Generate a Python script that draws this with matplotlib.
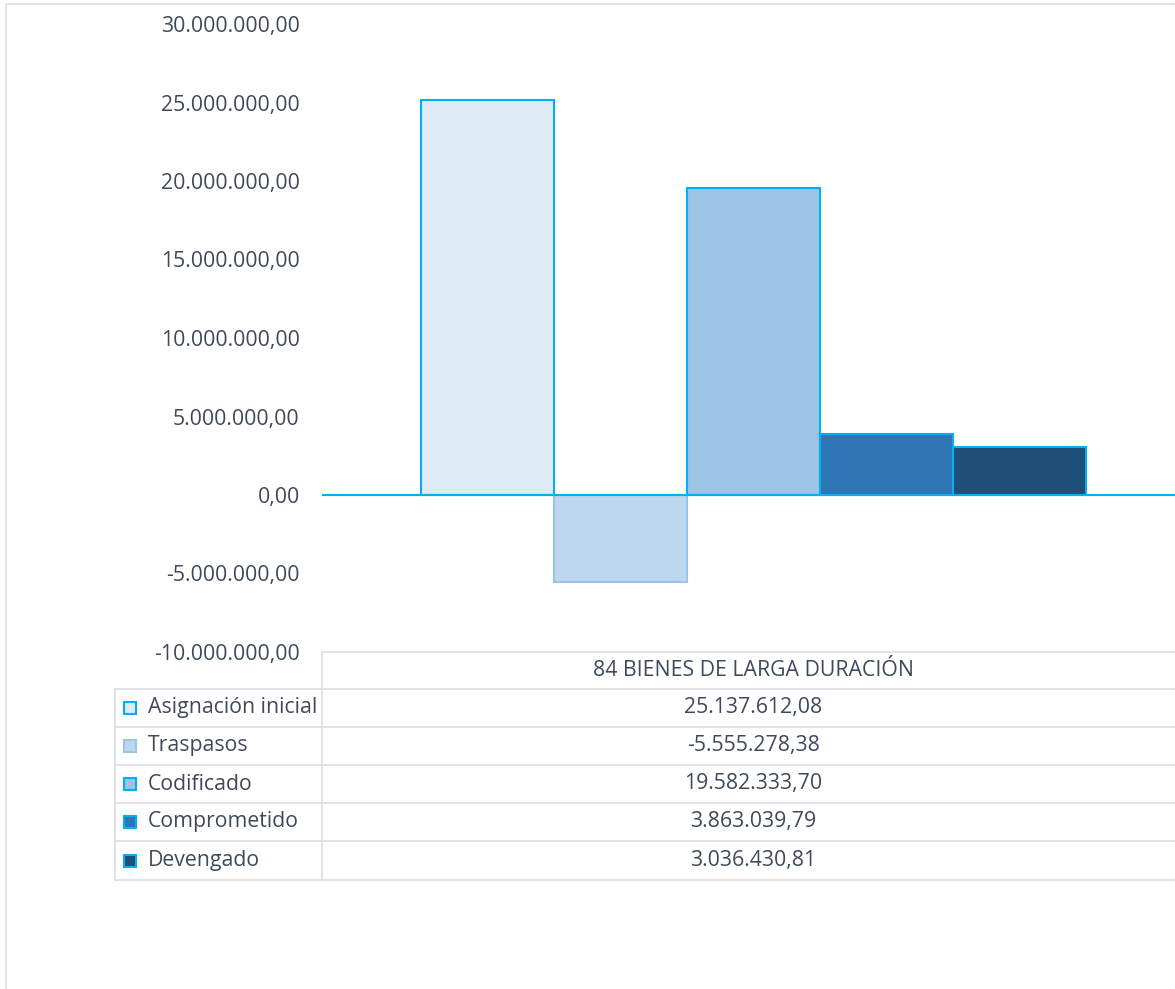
import matplotlib
matplotlib.use("Agg")
import matplotlib.pyplot as plt
from matplotlib.ticker import FuncFormatter
from matplotlib.patches import Rectangle
from matplotlib.lines import Line2D

category = "84 BIENES DE LARGA DURACIÓN"
series = ["Asignación inicial", "Traspasos", "Codificado", "Comprometido", "Devengado"]
values = [25137612.08, -5555278.38, 19582333.70, 3863039.79, 3036430.81]
fills = ["#DEEAF6", "#BDD7EE", "#9DC3E6", "#2E75B6", "#1F4E79"]
edges = ["#00B0F0", "#9DC3E6", "#00B0F0", "#00B0F0", "#00B0F0"]
y_ticks = [-10000000, -5000000, 0, 5000000, 10000000, 15000000, 20000000, 25000000, 30000000]

TXT = "#3E4A5B"
GRID = "#D9DEE5"
FONT = ["Open Sans", "DejaVu Sans"]
FS = 15.3
plt.rcParams['font.family'] = FONT

def fmt(v):
    s = f"{v:,.2f}"
    return s.replace(",", "X").replace(".", ",").replace("X", ".")

W, H = 1175, 989
fig = plt.figure(figsize=(W / 100, H / 100), dpi=100)

x0, x1 = 322, 1185
ytop, ybot = 24, 652
ax = fig.add_axes([x0 / W, 1 - ybot / H, (x1 - x0) / W, (ybot - ytop) / H])
ax.set_xlim(-0.5, 0.5)
ax.set_ylim(min(y_ticks), max(y_ticks))
bw = 133 / (x1 - x0)
n = len(series)
for i, (s, v, fc, ec) in enumerate(zip(series, values, fills, edges)):
    ax.bar((i - (n - 1) / 2) * bw, v, width=bw, color=fc, edgecolor=ec, linewidth=1.5, zorder=2)
ax.axhline(0, color="#00B0F0", linewidth=1.5, zorder=3)
ax.set_yticks(y_ticks)
ax.yaxis.set_major_formatter(FuncFormatter(lambda v, p: fmt(v)))
ax.tick_params(axis='y', length=0, pad=16, labelsize=FS, labelcolor=TXT)
ax.set_xticks([])
for sp in ax.spines.values():
    sp.set_visible(False)
ax.patch.set_alpha(0)

ov = fig.add_axes([0, 0, 1, 1], zorder=-1)
ov.set_xlim(0, W)
ov.set_ylim(H, 0)
ov.axis('off')
ov.add_patch(Rectangle((6, 4), W + 20, H + 20, fill=False, edgecolor=GRID, linewidth=1.2))

rows = [652, 689, 727, 765, 803, 841, 880]
lc = GRID
ov.add_line(Line2D([x0, W + 5], [rows[0], rows[0]], color=lc, lw=1.2))
ov.add_line(Line2D([x0, x0], [rows[0], rows[-1]], color=lc, lw=1.2))
ov.add_line(Line2D([115, 115], [rows[1], rows[-1]], color=lc, lw=1.2))
for r in rows[1:]:
    ov.add_line(Line2D([115, W + 5], [r, r], color=lc, lw=1.2))
cx = (x0 + x1) / 2
ov.text(cx, (rows[0] + rows[1]) / 2, category, ha='center', va='center', fontsize=FS, color=TXT)
for i, (s, v, fc, ec) in enumerate(zip(series, values, fills, edges)):
    yc = (rows[i + 1] + rows[i + 2]) / 2
    ov.add_patch(Rectangle((124, yc - 6), 12, 12, facecolor=fc, edgecolor=ec, linewidth=1.5))
    ov.text(148, yc, s, ha='left', va='center', fontsize=FS, color=TXT)
    ov.text(cx, yc, fmt(v), ha='center', va='center', fontsize=FS, color=TXT)

fig.savefig("out.png", dpi=100)
